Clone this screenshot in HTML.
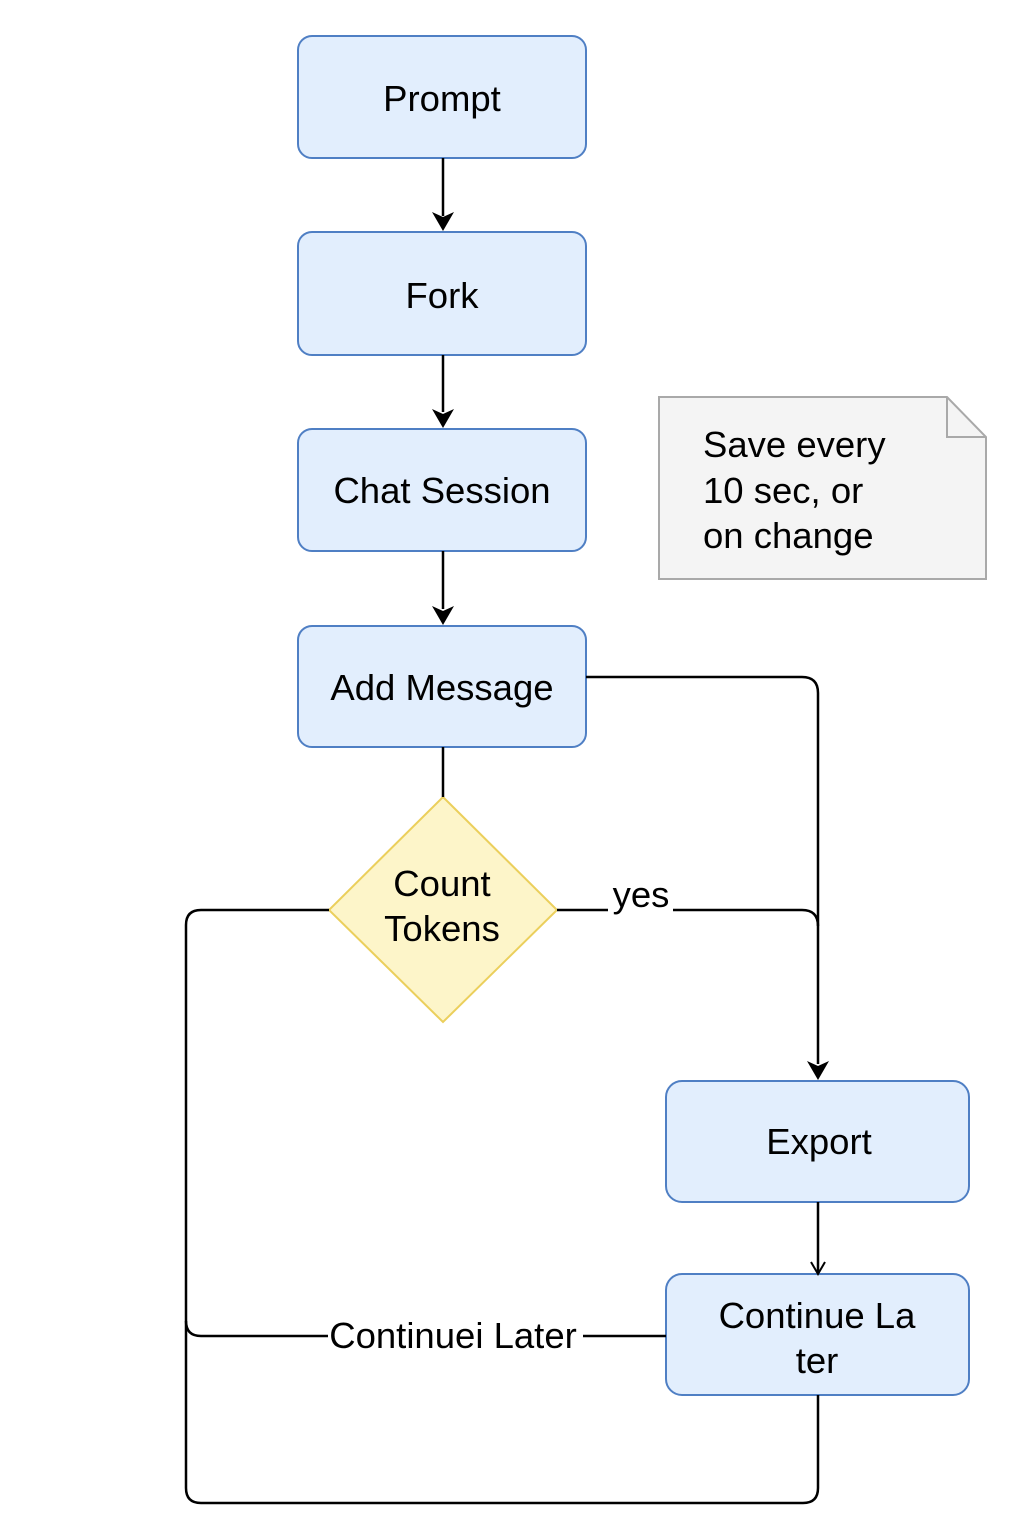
<!DOCTYPE html>
<html><head><meta charset="utf-8"><style>
html,body{margin:0;padding:0;background:#fff;width:1024px;height:1536px;overflow:hidden}
svg{display:block}
text{font-family:"Liberation Sans",Arial,sans-serif;fill:#000}
</style></head><body>
<svg width="1024" height="1536" viewBox="0 0 1024 1536" xmlns="http://www.w3.org/2000/svg">
<g fill="#e2eefd" stroke="#4f7fc4" stroke-width="2">
<rect x="298" y="36" width="288" height="122" rx="14"/>
<rect x="298" y="232" width="288" height="123" rx="14"/>
<rect x="298" y="429" width="288" height="122" rx="14"/>
<rect x="298" y="626" width="288" height="121" rx="14"/>
<rect x="666" y="1081" width="303" height="121" rx="16"/>
<rect x="666" y="1274" width="303" height="121" rx="16"/>
</g>
<polygon points="443,797 557,910 443,1022 329,910" fill="#fdf5c9" stroke="#ebcf5c" stroke-width="2"/>
<path d="M659,397 H947 L986,437 V579 H659 Z" fill="#f4f4f4" stroke="#a9a9a9" stroke-width="2"/>
<path d="M947,397 V437 H986" fill="none" stroke="#a9a9a9" stroke-width="2"/>
<g fill="none" stroke="#000" stroke-width="2.5">
<path d="M443,158 V216"/>
<path d="M443,355 V412"/>
<path d="M443,551 V609"/>
<path d="M443,747 V797"/>
<path d="M586,677 H802 Q818,677 818,693 V1064"/>
<path d="M557,910 H608 M673,910 H802 Q818,910 818,926"/>
<path d="M818,1202 V1272"/>
<path d="M329,910 H201 Q186,910 186,925 V1488 Q186,1503 201,1503 H803 Q818,1503 818,1488 V1395"/>
<path d="M666,1336 H583 M328,1336 H201 Q186,1336 186,1321"/>
<path d="M811,1262 L818,1274 L825,1262" stroke-width="2"/>
</g>
<g fill="#000">
<path d="M432,212 L443,231 L454,212 L443,217 Z"/>
<path d="M432,409 L443,428 L454,409 L443,414 Z"/>
<path d="M432,606 L443,625 L454,606 L443,611 Z"/>
<path d="M807,1061 L818,1080 L829,1061 L818,1066 Z"/>
</g>
<g font-size="36.5" text-anchor="middle">
<text x="442" y="111">Prompt</text>
<text x="442" y="308">Fork</text>
<text x="442" y="503">Chat Session</text>
<text x="442" y="700">Add Message</text>
<text x="442" y="896">Count</text>
<text x="442" y="941">Tokens</text>
<text x="819" y="1154">Export</text>
<text x="817" y="1328">Continue La</text>
<text x="817" y="1373">ter</text>
<text x="641" y="907">yes</text>
<text x="453" y="1348">Continuei Later</text>
</g>
<g font-size="36.5">
<text x="703" y="457">Save every</text>
<text x="703" y="503">10 sec, or</text>
<text x="703" y="548">on change</text>
</g>
</svg>
</body></html>
